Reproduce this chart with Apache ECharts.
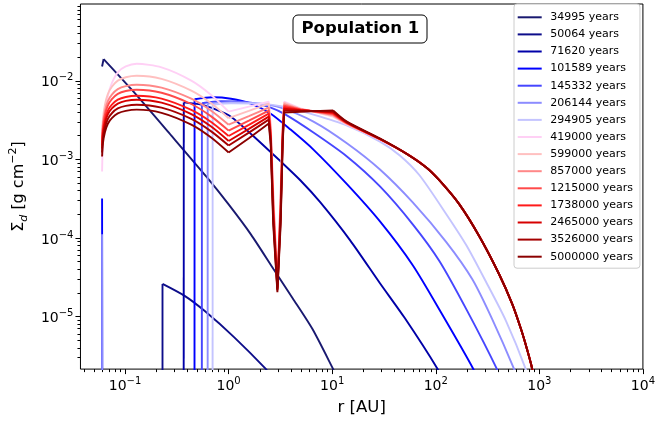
<!DOCTYPE html>
<html><head><meta charset="utf-8">
<script src="https://cdn.jsdelivr.net/npm/echarts@6/dist/echarts.min.js"></script>
<style>html,body{margin:0;padding:0;background:#fff}#c{width:658px;height:423px}</style>
</head><body><div id="c"></div>
<script>
// ---- data: [r (AU), Sigma_d (g cm^-2)] ----
const seriesNames = ['34995 years','50064 years','71620 years','101589 years','145332 years','206144 years','294905 years','419000 years','599000 years','857000 years','1215000 years','1738000 years','2465000 years','3526000 years','5000000 years'];
const seriesColors = ['#191970','#0d0d8a','#0000a8','#0000ff','#4646ff','#8c8cff','#c4c4ff','#ffd0f5','#ffc0c0','#ff8888','#ff4a4a','#ff1a1a','#d60000','#a50000','#8b0000'];

const s34995 = [[0.06,0.0152],[0.0621,0.0189],[0.116,7.69e-3],[0.280,2.00e-3],[0.607,6.05e-4],[1.0,2.67e-4],[1.64,1.11e-4],[2.72,3.99e-5],[4.15,1.71e-5],[6.45,6.92e-6],[10.2,2.15e-6],[12.0,1.39e-6]];
const s50064 = [[0.2299,1e-8],[0.23,2.60e-5],[0.376,1.83e-5],[0.585,1.18e-5],[1.134,5.43e-6],[2.284,2.15e-6],[2.55,1.75e-6]];
const s71620 = [[0.368,1e-8],[0.369,5.30e-3],[0.544,4.96e-3],[0.757,4.29e-3],[1.054,3.49e-3],[1.676,2.06e-3],[3.042,9.94e-4],[4.946,5.38e-4],[7.69,2.83e-4],[14.91,9.32e-5],[28.92,2.65e-5],[50.22,9.54e-6],[104.1,2.15e-6],[121.5,1.39e-6]];
const s101589 = [[0.06,3.18e-4],[0.0605,1e-8],[0.468,1e-8],[0.469,5.82e-3],[0.693,6.17e-3],[1.054,5.91e-3],[1.64,5.11e-3],[2.55,3.81e-3],[3.965,2.39e-3],[6.589,1.33e-3],[13.96,4.79e-4],[28.92,1.62e-4],[59.95,4.49e-5],[113.6,1.10e-5],[230.4,2.15e-6],[263,1.39e-6]];
const s145332 = [[0.551,1e-8],[0.552,5.18e-3],[0.846,5.49e-3],[1.64,5.26e-3],[2.55,4.54e-3],[3.551,3.70e-3],[6.589,2.19e-3],[13.96,1.08e-3],[28.92,4.52e-4],[59.95,1.49e-4],[108.7,5.05e-5],[201.8,1.17e-5],[388.7,2.15e-6],[437,1.39e-6]];
const s206144 = [[0.06,1.11e-4],[0.0605,1e-8],[0.627,1e-8],[0.628,5.11e-3],[1.054,5.34e-3],[2.045,5.11e-3],[3.18,4.54e-3],[6.589,3.02e-3],[13.96,1.59e-3],[28.92,7.42e-4],[59.95,2.83e-4],[126.9,8.79e-5],[225.4,2.98e-5],[350.5,9.27e-6],[569.4,2.15e-6],[636,1.39e-6]];
const s294905 = [[0.70,1e-8],[0.701,4.96e-3],[1.054,5.18e-3],[2.045,5.11e-3],[3.398,4.68e-3],[6.589,3.70e-3],[13.96,2.68e-3],[28.92,1.68e-3],[44.97,1.12e-3],[69.95,6.23e-4],[126.9,1.99e-4],[197.4,8.06e-5],[307,2.73e-5],[477.3,8.74e-6],[737.5,2.15e-6],[795,1.39e-6]];

// later snapshots share a radial grid (inner disc, gap at ~3 AU, kink at ~10 AU) and an outer tail
const redR = [0.060,0.0611,0.0639,0.0682,0.0746,0.0851,0.1016,0.1295,0.2248,0.436,0.678,1.0,1.569,2.44,2.55,2.695,2.957,3.18,3.324,3.436,4.946,10.2,13.87,28.92];
const s419000  = [7.00e-4,1.69e-3,3.62e-3,6.38e-3,9.32e-3,0.01278,0.01519,0.01643,0.01483,0.01006,6.60e-3,4.04e-3,4.68e-3,5.41e-3,2.76e-3,4.14e-4,2.65e-5,4.14e-4,2.76e-3,5.41e-3,4.44e-3,3.49e-3,2.78e-3,1.78e-3];
const s599000  = [1.95e-3,3.21e-3,4.92e-3,6.78e-3,8.39e-3,0.01003,0.01108,0.01157,0.01057,7.49e-3,5.17e-3,3.34e-3,4.13e-3,5.11e-3,2.54e-3,3.58e-4,2.58e-5,3.58e-4,2.54e-3,5.26e-3,4.40e-3,3.54e-3,2.81e-3,1.79e-3];
const s857000  = [1.78e-3,2.80e-3,4.11e-3,5.49e-3,6.66e-3,7.82e-3,8.54e-3,8.90e-3,8.17e-3,5.91e-3,4.16e-3,2.76e-3,3.54e-3,4.54e-3,2.34e-3,3.09e-4,2.50e-5,3.09e-4,2.34e-3,5.03e-3,4.36e-3,3.65e-3,2.85e-3,1.80e-3];
const s1215000 = [1.63e-3,2.52e-3,3.66e-3,4.83e-3,5.82e-3,6.80e-3,7.40e-3,7.69e-3,7.04e-3,5.06e-3,3.52e-3,2.32e-3,3.11e-3,4.16e-3,2.15e-3,2.67e-4,2.36e-5,2.67e-4,2.15e-3,4.82e-3,4.31e-3,3.76e-3,2.88e-3,1.80e-3];
const s1738000 = [1.50e-3,2.25e-3,3.20e-3,4.16e-3,4.96e-3,5.74e-3,6.22e-3,6.45e-3,5.93e-3,4.26e-3,2.99e-3,1.98e-3,2.74e-3,3.81e-3,1.98e-3,2.31e-4,2.29e-5,2.31e-4,1.98e-3,4.61e-3,4.26e-3,3.87e-3,2.91e-3,1.81e-3];
const s2465000 = [1.37e-3,2.05e-3,2.89e-3,3.73e-3,4.44e-3,5.12e-3,5.54e-3,5.74e-3,5.26e-3,3.76e-3,2.61e-3,1.71e-3,2.44e-3,3.49e-3,1.82e-3,1.99e-4,2.23e-5,1.99e-4,1.82e-3,4.41e-3,4.21e-3,3.98e-3,2.95e-3,1.82e-3];
const s3526000 = [1.22e-3,1.80e-3,2.53e-3,3.26e-3,3.86e-3,4.44e-3,4.79e-3,4.96e-3,4.54e-3,3.27e-3,2.27e-3,1.50e-3,2.19e-3,3.20e-3,1.68e-3,1.72e-4,2.16e-5,1.72e-4,1.68e-3,4.16e-3,4.14e-3,4.10e-3,2.98e-3,1.83e-3];
const s5000000 = [1.085e-3,1.60e-3,2.21e-3,2.84e-3,3.34e-3,3.84e-3,4.14e-3,4.29e-3,3.91e-3,2.76e-3,1.89e-3,1.22e-3,1.86e-3,2.85e-3,1.54e-3,1.49e-4,2.04e-5,1.49e-4,1.54e-3,3.93e-3,4.04e-3,4.20e-3,3.02e-3,1.84e-3];
const tailR = [52.1,81.1,108.7,169,263,409,548,665,759,853,906];
const tailS = [1.18e-3,7.87e-4,5.38e-4,2.67e-4,1.05e-4,3.45e-5,1.44e-5,6.92e-6,3.86e-6,2.15e-6,1.20e-6];

// axis extents and tick exponents
const xRange = [0.0371, 1e4];
const yRange = [2.14e-6, 0.0948];
const xTickExp = [-1,0,1,2,3,4];
const yTickExp = [-5,-4,-3,-2];

// ---- build ----
const L = Math.log10;
const FONT = 'DejaVu Sans';
const xMin = L(xRange[0]), xMax = L(xRange[1]), yMin = L(yRange[0]), yMax = L(yRange[1]);
function minorTicks(a, b) {
  const out = [];
  for (let n = Math.floor(a) - 1; n <= Math.ceil(b); n++)
    for (let k = 2; k <= 9; k++) { const v = n + L(k); if (v > a && v < b) out.push(v); }
  return out;
}
const pairs = arr => arr.map(p => [L(p[0]), L(p[1])]);
const redData = S => redR.map((r, i) => [L(r), L(S[i])]).concat(tailR.map((r, i) => [L(r), L(tailS[i])]));

// pieces: [data, smooth] -- sharp corners (cavity edges, V, gap, kink) stay unsmoothed
const bluePieces = [
  [pairs(s34995), 1], [pairs(s50064), 1], [pairs(s71620), 1], [pairs(s101589), 3],
  [pairs(s145332), 1], [pairs(s206144), 3], [pairs(s294905), 1]
].map(([d, k]) => [[d.slice(0, k + 1), false], [d.slice(k), true]]);
const redPieces = [s419000, s599000, s857000, s1215000, s1738000, s2465000, s3526000, s5000000]
  .map(S => { const d = redData(S); return [[d.slice(0, 12), true], [d.slice(11, 22), false], [d.slice(21), true]]; });
const pieces = bluePieces.concat(redPieces);

const expLabel = v => { const e = Math.round(v); return '{b|10}{s|' + (e < 0 ? '\u2212' + (-e) : e) + '}'; };
const richLab = {
  b: { fontSize: 14, lineHeight: 20, fontFamily: FONT, color: '#000' },
  s: { fontSize: 10, lineHeight: 10, verticalAlign: 'top', fontFamily: FONT, color: '#000' }
};
const tickStyle = { color: '#000', width: 1 };
const noLine = { show: false, onZero: false };

const series = [];
pieces.forEach((ps, i) => ps.forEach(([d, sm]) => series.push({
  name: seriesNames[i], type: 'line', data: d, xAxisIndex: 0, yAxisIndex: 0,
  symbol: 'none', showSymbol: false, clip: true, silent: true,
  smooth: sm ? 0.25 : false,
  lineStyle: { width: 1.9, color: seriesColors[i] },
  itemStyle: { color: seriesColors[i] }
})));

const option = {
  animation: false,
  backgroundColor: '#fff',
  textStyle: { fontFamily: FONT },
  title: {
    text: 'Population 1', left: 293, top: 15,
    backgroundColor: '#fff', borderColor: '#000', borderWidth: 1, borderRadius: 5,
    padding: [4.5, 8.5, 4.5, 8.5],
    textStyle: { fontSize: 16.5, fontWeight: 'bold', color: '#000', fontFamily: FONT, lineHeight: 19 }
  },
  legend: {
    orient: 'vertical', left: 514, top: 4,
    padding: [7.3, 7, 5.5, 2.7],
    itemWidth: 24, itemHeight: 12, itemGap: 5.1,
    selectedMode: false,
    itemStyle: { opacity: 0 },
    backgroundColor: 'rgba(255,255,255,0.9)', borderColor: '#cccccc', borderWidth: 1, borderRadius: 3,
    textStyle: { fontSize: 11, color: '#000', fontFamily: FONT, lineHeight: 12, padding: [0, 0, 0, 3.5] },
    data: seriesNames
  },
  grid: { left: 79, right: 13, top: 4, bottom: 53, show: true, borderColor: '#000', borderWidth: 1, backgroundColor: 'transparent' },
  xAxis: [
    { type: 'value', min: xMin, max: xMax, position: 'bottom',
      axisLine: noLine, splitLine: { show: false },
      axisTick: { show: true, customValues: xTickExp, length: 5, lineStyle: tickStyle },
      axisLabel: { customValues: xTickExp, formatter: expLabel, rich: richLab, margin: 7 },
      name: 'r [AU]', nameLocation: 'middle', nameGap: 28,
      nameTextStyle: { fontSize: 16.5, color: '#000', fontFamily: FONT, lineHeight: 20 } },
    { type: 'value', min: xMin, max: xMax, position: 'bottom', offset: 0,
      axisLine: noLine, splitLine: { show: false }, axisLabel: { show: false },
      axisTick: { show: true, customValues: minorTicks(xMin, xMax), length: 3, lineStyle: tickStyle } }
  ],
  yAxis: [
    { type: 'value', min: yMin, max: yMax, position: 'left',
      axisLine: noLine, splitLine: { show: false },
      axisTick: { show: true, customValues: yTickExp, length: 5, lineStyle: tickStyle },
      axisLabel: { customValues: yTickExp, formatter: expLabel, rich: richLab, margin: 7, padding: [4, 0, 0, 0] },
      name: '\u03a3{sub|d} [g cm{sup|\u22122}]', nameLocation: 'middle', nameGap: 50, nameRotate: 90,
      nameTextStyle: { fontSize: 16, color: '#000', fontFamily: FONT, lineHeight: 22,
        rich: { sub: { fontSize: 11, fontStyle: 'italic', verticalAlign: 'bottom', lineHeight: 12, fontFamily: FONT, color: '#000' },
                sup: { fontSize: 11, verticalAlign: 'top', lineHeight: 12, fontFamily: FONT, color: '#000' } } } },
    { type: 'value', min: yMin, max: yMax, position: 'left', offset: 0,
      axisLine: noLine, splitLine: { show: false }, axisLabel: { show: false },
      axisTick: { show: true, customValues: minorTicks(yMin, yMax), length: 3, lineStyle: tickStyle } }
  ],
  series: series
};
const chart = echarts.init(document.getElementById('c'), null, { renderer: 'canvas' });
chart.setOption(option);
</script>
</body></html>
